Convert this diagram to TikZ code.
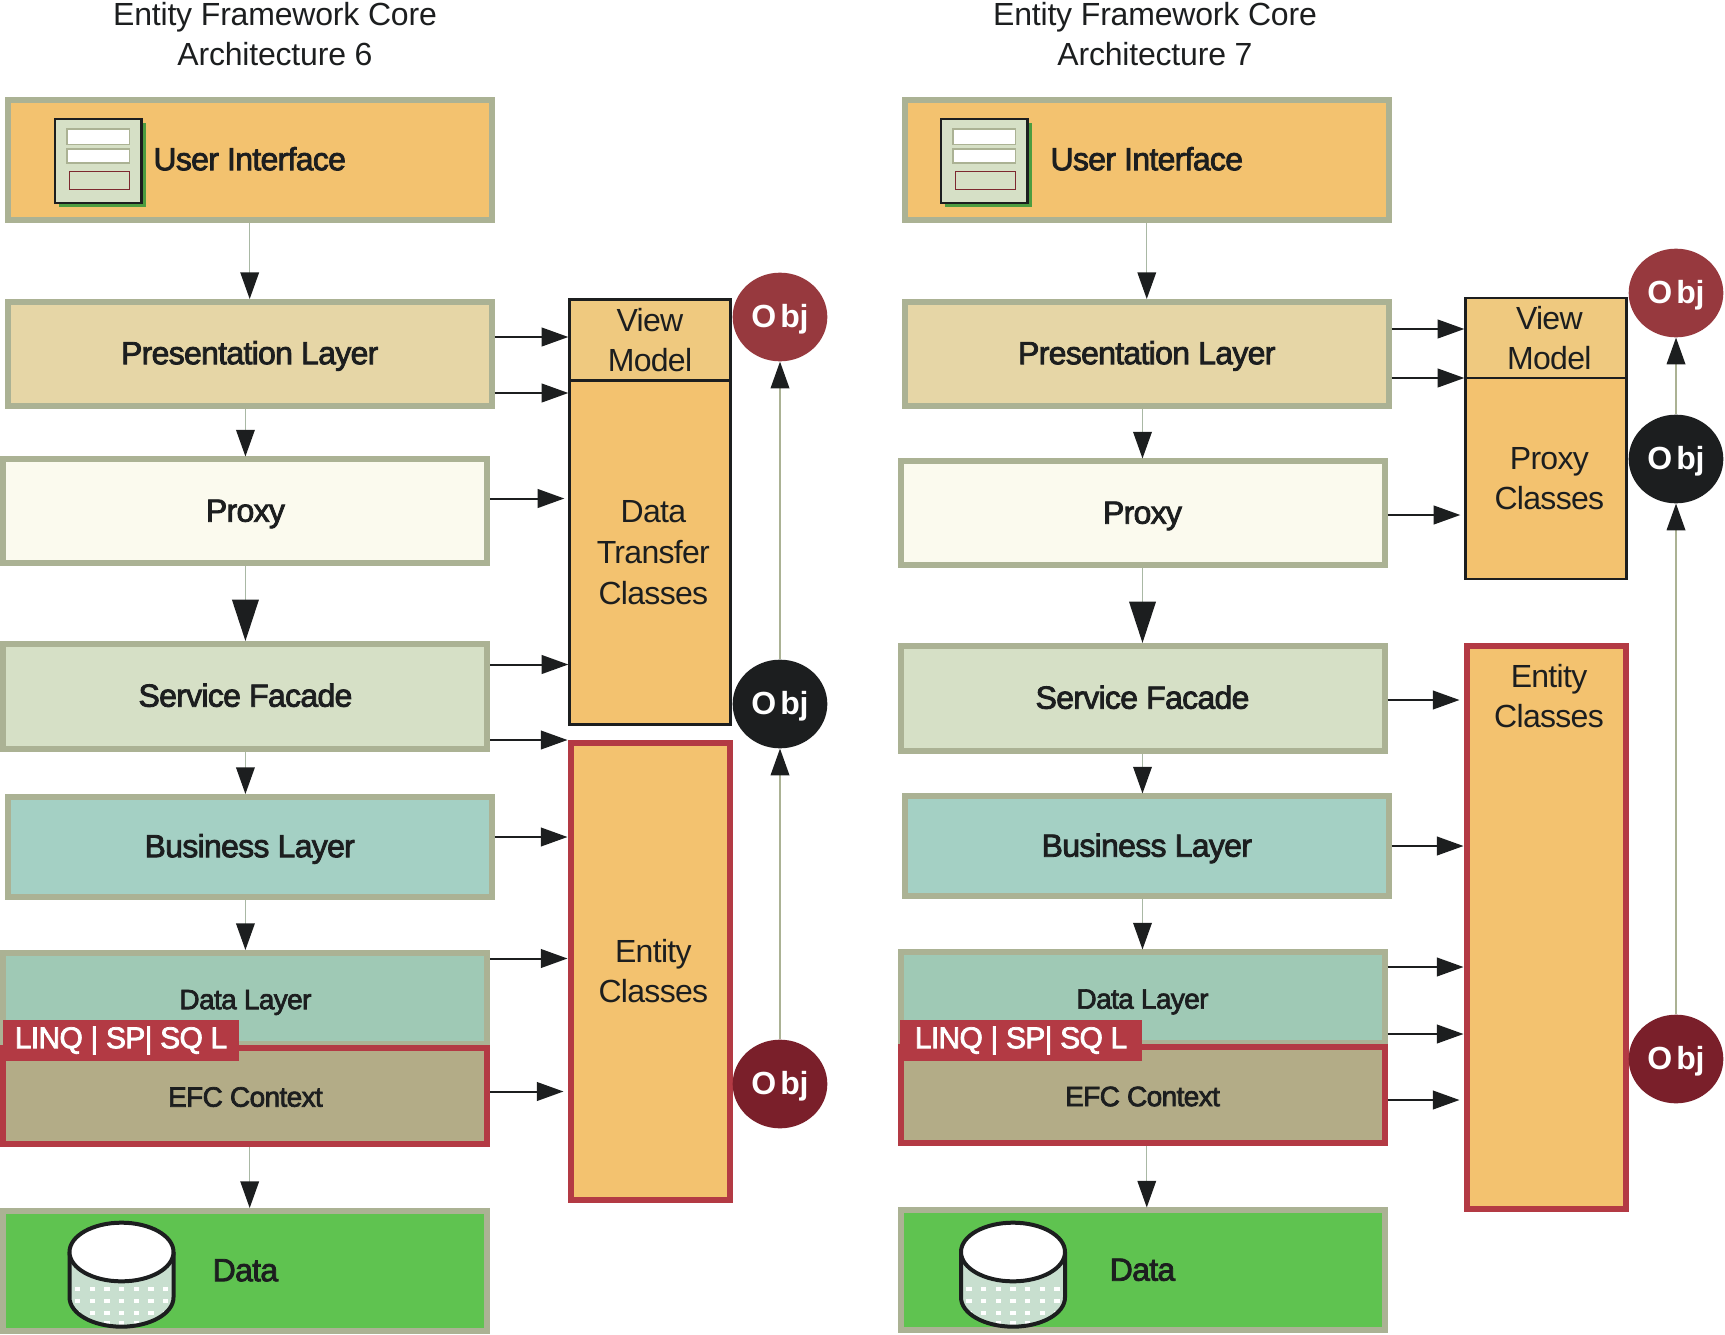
\documentclass[tikz,border=0pt]{standalone}
\usepackage{fontspec}
\setmainfont[LetterSpace=-0.6]{Liberation Sans}
\newfontfamily\layerfont[FakeBold=2.5, LetterSpace=-2.2]{Liberation Sans}
\newfontfamily\sidefont[LetterSpace=-2.2]{Liberation Sans}
\usepackage{color}
\usetikzlibrary{shapes.geometric, positioning, arrows.meta}

\definecolor{ink}{HTML}{1C1E1F}
\definecolor{edgegreen}{HTML}{ABB294}
\definecolor{boxred}{HTML}{B33A44}
\definecolor{orange}{HTML}{F3C26F}
\definecolor{beige}{HTML}{E6D6A6}
\definecolor{cream}{HTML}{FBFAEE}
\definecolor{sage}{HTML}{D6E0C6}
\definecolor{teal}{HTML}{A4D0C4}
\definecolor{dlteal}{HTML}{9FC9B5}
\definecolor{khaki}{HTML}{B3AC87}
\definecolor{grass}{HTML}{5FC350}
\definecolor{vmfill}{HTML}{EFC97F}
\definecolor{objred}{HTML}{97393E}
\definecolor{objdark}{HTML}{7A1F2A}
\definecolor{shaft}{HTML}{A9B8A4}
\definecolor{cylfill}{HTML}{C8DFCF}

\newcommand{\nudge}{\hspace*{5pt}}

\tikzset{
  layer/.style={draw=edgegreen, rectangle, line width=4.5pt, inner sep=0pt, minimum width=363pt,
    text=ink, font=\layerfont\fontsize{24}{28}\selectfont, text height=17pt, text depth=1.7pt},
  smalllayer/.style={layer, font=\layerfont\fontsize{21}{24}\selectfont, text height=17.6pt, text depth=1.6pt},
  thinbox/.style={draw=ink, rectangle, line width=2pt, inner sep=0pt, minimum width=120.5pt, fill=orange,
    text=ink, align=center, font=\sidefont\fontsize{24}{30.5}\selectfont},
  entitybox/.style={thinbox, draw=boxred, line width=4.5pt, minimum width=119.25pt},
  tabbox/.style={rectangle, fill=boxred, inner sep=0pt, minimum width=177pt, minimum height=31pt,
    text=white, font=\layerfont\fontsize{22.5}{26}\selectfont},
  objnode/.style={ellipse, inner sep=0pt, minimum width=71pt, minimum height=66.5pt,
    text=white, font=\bfseries\fontsize{24}{26}\selectfont, text height=17.5pt, text depth=2.3pt},
  titlenode/.style={align=center, text=ink, font=\fontsize{24}{30.5}\selectfont},
  sidearrow/.style={line width=1.5pt, color=ink, -{Triangle[length=20pt,width=14pt,color=ink]}},
  downarrow/.style={line width=1pt, color=shaft, -{Triangle[length=20pt,width=14pt,color=ink]}},
  bigdown/.style={line width=1pt, color=shaft, -{Triangle[length=31pt,width=20pt,color=ink]}},
  objarrow/.style={line width=1pt, color=edgegreen, -{Triangle[length=20pt,width=14pt,color=ink]}},
  formicon/.pic={
    \fill[grass!80!black] (3pt,-3pt) rectangle (68pt,-66pt);
    \draw[ink, line width=2pt, fill=sage] (0pt,0pt) rectangle (65pt,-63pt);
    \draw[edgegreen, line width=1pt, fill=white] (9pt,-7.5pt) rectangle (56pt,-19pt);
    \draw[edgegreen, line width=1pt, fill=white] (9pt,-22.5pt) rectangle (56pt,-33pt);
    \draw[boxred!70!black, line width=.75pt, fill=sage] (10.5pt,-39pt) rectangle (56pt,-53pt);
  },
  cylicon/.pic={
    \begin{scope}
      \clip (-39pt,0pt) -- (-39pt,-34pt) arc[start angle=180,end angle=360,x radius=39pt,y radius=22pt] -- (39pt,0pt) -- cycle;
      \fill[cylfill] (-39pt,0pt) rectangle (39pt,-60pt);
      \foreach \dy in {-28,-37,-46,-53}
        \foreach \dx in {-33,-22,-11,0,11,22,33}
          \fill[white] (\dx pt-2pt,\dy pt-1.5pt) rectangle (\dx pt+2pt,\dy pt+1.5pt);
    \end{scope}
    \draw[ink, line width=3pt] (-39pt,0pt) -- (-39pt,-34pt) arc[start angle=180,end angle=360,x radius=39pt,y radius=22pt] -- (39pt,0pt);
    \draw[ink, line width=3pt, fill=white] (0pt,0pt) ellipse[x radius=39pt,y radius=22pt];
  }
}

\begin{document}
\begin{tikzpicture}[x=.75pt, y=-.75pt]
\useasboundingbox (0,0) rectangle (1725,1335);

% Architecture 6
\node[titlenode]    (T)   at (275,34)   {Entity Framework Core\\Architecture 6};
\node[layer, fill=orange, minimum height=90pt]    (UI)   at (249.7,160)   {User Interface};
\node[layer, fill=beige, minimum height=78pt]    (PL)[below=57pt of UI]   {Presentation Layer};
\node[layer, fill=cream, minimum height=78pt]    (PX)[below=35.6pt of PL, xshift=-3.2pt]   {Proxy};
\node[layer, fill=sage, minimum height=78.75pt]    (SF)[below=55.9pt of PX]   {Service Facade};
\node[layer, fill=teal, minimum height=75pt]    (BL)[below=31.5pt of SF, xshift=3.2pt]   {Business Layer};
\node[smalllayer, fill=dlteal, minimum height=68.25pt]    (DL)[below=37.5pt of BL, xshift=-3.2pt]   {Data Layer};
\node[smalllayer, draw=boxred, fill=khaki, minimum height=72pt]    (EF)[below=-1.5pt of DL]   {EFC Context};
\node[tabbox]    (LQ)   at (121,1040.5)   {LINQ | SP| SQ L};
\node[layer, fill=grass, minimum height=90pt]    (DA)[below=45.75pt of EF]   {Data};
\pic at (55,119) {formicon};
\pic at (121.5,1252) {cylicon};

\node[thinbox, fill=vmfill, minimum height=60.75pt]    (VM)   at (650,340)   {View\\Model};
\node[thinbox, minimum height=258pt]    (DT)[below=-2pt of VM]   {\nudge Data\\\nudge Transfer\\\nudge Classes};
\node[entitybox, minimum height=342.75pt]    (EC)   at (650,971)   {\nudge Entity\\\nudge Classes};
\node[objnode, fill=objred]    (OA)   at (780,317)   {O\kern3pt bj};
\node[objnode, fill=ink]    (OB)   at (780,704)   {O\kern3pt bj};
\node[objnode, fill=objdark]    (OC)   at (780,1084)   {O\kern3pt bj};

% Architecture 7
\node[titlenode]    (T')   at (1155,34)   {Entity Framework Core\\Architecture 7};
\node[layer, fill=orange, minimum height=90pt]    (UI')[right=305.3pt of UI]   {User Interface};
\node[layer, fill=beige, minimum height=78pt]    (PL')[below=57pt of UI']   {Presentation Layer};
\node[layer, fill=cream, minimum height=78pt]    (PX')[below=37.1pt of PL', xshift=-3.2pt]   {Proxy};
\node[layer, fill=sage, minimum height=78.75pt]    (SF')[below=55.9pt of PX']   {Service Facade};
\node[layer, fill=teal, minimum height=75pt]    (BL')[below=29.6pt of SF', xshift=3.2pt]   {Business Layer};
\node[smalllayer, fill=dlteal, minimum height=68.25pt]    (DL')[below=37.5pt of BL', xshift=-3.2pt]   {Data Layer};
\node[smalllayer, draw=boxred, fill=khaki, minimum height=72pt]    (EF')[below=-1.5pt of DL']   {EFC Context};
\node[tabbox, minimum width=182pt]    (LQ')   at (1021,1040.5)   {LINQ | SP| SQ L};
\node[layer, fill=grass, minimum height=90pt]    (DA')[below=45.75pt of EF']   {Data};
\pic at (941,119) {formicon};
\pic at (1013,1252) {cylicon};

\node[thinbox, fill=vmfill, minimum height=60pt]    (VM')   at (1546,338)   {\nudge View\\\nudge Model};
\node[thinbox, minimum height=150.75pt]    (PC')[below=-2pt of VM']   {\nudge Proxy\\\nudge Classes};
\node[entitybox, minimum height=422.25pt]    (EC')   at (1546,927)   {};
\node[text=ink, align=center, font=\sidefont\fontsize{24}{30.5}\selectfont]    (ET')   at (1549,696)   {Entity\\Classes};
\node[objnode, fill=objred]    (OA')   at (1676,293)   {O\kern3pt bj};
\node[objnode, fill=ink]    (OB')   at (1676,459)   {O\kern3pt bj};
\node[objnode, fill=objdark]    (OC')   at (1676,1059)   {O\kern3pt bj};

% layers, top to bottom
\path[downarrow]
(UI.south) edge (PL.north)
(PX.north |- PL.south) edge (PX.north)
(SF.south) edge (SF.south |- BL.north)
(BL.south -| DL.north) edge (DL.north)
(EF.south -| UI.south) edge (DA.north -| UI.north)
(UI'.south) edge (PL'.north)
(PX'.north |- PL'.south) edge (PX'.north)
(SF'.south) edge (SF'.south |- BL'.north)
(BL'.south -| DL'.north) edge (DL'.north)
(EF'.south -| UI'.south) edge (DA'.north -| UI'.north);

\path[bigdown]
(PX.south) edge (SF.north)
(PX'.south) edge (SF'.north);

% to the class boxes
\path[sidearrow]
(PL.east |- 0,337) edge (VM.west |- 0,337)
(PL.east |- 0,393) edge (DT.west |- 0,393)
(PX.east |- 0,498.5) edge[shorten >=3pt] (DT.west |- 0,498.5)
(SF.east |- 0,664.5) edge (DT.west |- 0,664.5)
(SF.east |- 0,740) edge (EC.west |- 0,740)
(BL.east |- 0,837) edge (EC.west |- 0,837)
(DL.east |- 0,958.5) edge (EC.west |- 0,958.5)
(EF.east |- 0,1091.5) edge[shorten >=3pt] (EC.west |- 0,1091.5)
(PL'.east |- 0,329) edge (VM'.west |- 0,329)
(PL'.east |- 0,378) edge (VM'.west |- 0,378)
(PX'.east |- 0,515) edge[shorten >=3pt] (PC'.west |- 0,515)
(SF'.east |- 0,700) edge[shorten >=3pt] (EC'.west |- 0,700)
(BL'.east |- 0,846) edge (EC'.west |- 0,846)
(DL'.east |- 0,967) edge (EC'.west |- 0,967)
(DL'.east |- 0,1034) edge (EC'.west |- 0,1034)
(EF'.east |- 0,1100) edge[shorten >=3pt] (EC'.west |- 0,1100);

\path[objarrow]
(OC.north) edge (OB.south)
(OB.north) edge (OA.south)
(OC'.north) edge (OB'.south)
(OB'.north) edge (OA'.south);

\end{tikzpicture}
\end{document}
